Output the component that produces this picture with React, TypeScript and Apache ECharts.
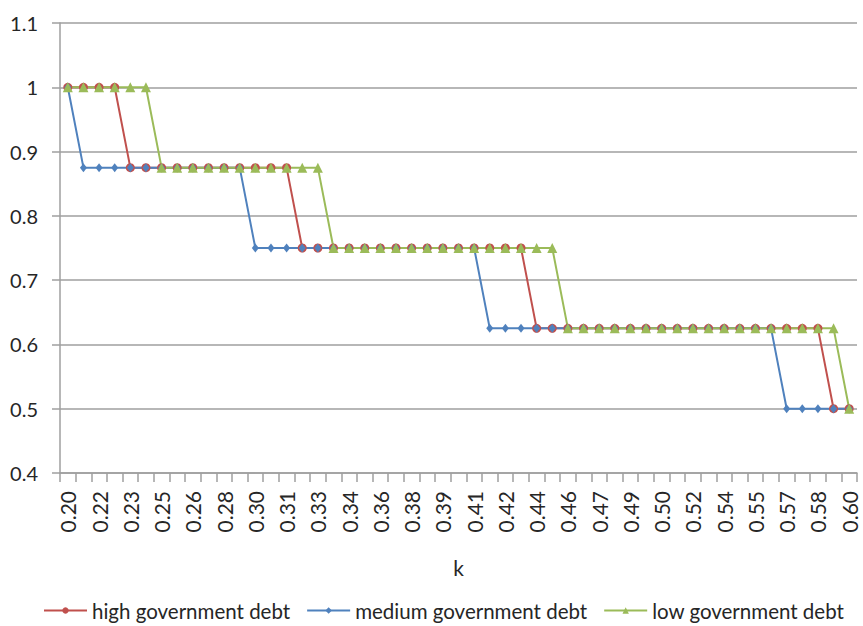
import React, { useEffect, useRef } from "react";
import * as echarts from "echarts";

// k values along the horizontal axis (step 0.008)
const kValues = [
  0.200, 0.208, 0.216, 0.224, 0.232, 0.240, 0.248, 0.256, 0.264, 0.272,
  0.280, 0.288, 0.296, 0.304, 0.312, 0.320, 0.328, 0.336, 0.344, 0.352,
  0.360, 0.368, 0.376, 0.384, 0.392, 0.400, 0.408, 0.416, 0.424, 0.432,
  0.440, 0.448, 0.456, 0.464, 0.472, 0.480, 0.488, 0.496, 0.504, 0.512,
  0.520, 0.528, 0.536, 0.544, 0.552, 0.560, 0.568, 0.576, 0.584, 0.592,
  0.600,
];

const highDebt = [
  1, 1, 1, 1, 0.875, 0.875, 0.875, 0.875, 0.875, 0.875,
  0.875, 0.875, 0.875, 0.875, 0.875, 0.75, 0.75, 0.75, 0.75, 0.75,
  0.75, 0.75, 0.75, 0.75, 0.75, 0.75, 0.75, 0.75, 0.75, 0.75,
  0.625, 0.625, 0.625, 0.625, 0.625, 0.625, 0.625, 0.625, 0.625, 0.625,
  0.625, 0.625, 0.625, 0.625, 0.625, 0.625, 0.625, 0.625, 0.625, 0.5,
  0.5,
];

const mediumDebt = [
  1, 0.875, 0.875, 0.875, 0.875, 0.875, 0.875, 0.875, 0.875, 0.875,
  0.875, 0.875, 0.75, 0.75, 0.75, 0.75, 0.75, 0.75, 0.75, 0.75,
  0.75, 0.75, 0.75, 0.75, 0.75, 0.75, 0.75, 0.625, 0.625, 0.625,
  0.625, 0.625, 0.625, 0.625, 0.625, 0.625, 0.625, 0.625, 0.625, 0.625,
  0.625, 0.625, 0.625, 0.625, 0.625, 0.625, 0.5, 0.5, 0.5, 0.5,
  0.5,
];

const lowDebt = [
  1, 1, 1, 1, 1, 1, 0.875, 0.875, 0.875, 0.875,
  0.875, 0.875, 0.875, 0.875, 0.875, 0.875, 0.875, 0.75, 0.75, 0.75,
  0.75, 0.75, 0.75, 0.75, 0.75, 0.75, 0.75, 0.75, 0.75, 0.75,
  0.75, 0.75, 0.625, 0.625, 0.625, 0.625, 0.625, 0.625, 0.625, 0.625,
  0.625, 0.625, 0.625, 0.625, 0.625, 0.625, 0.625, 0.625, 0.625, 0.625,
  0.5,
];

const seriesNames = ["high government debt", "medium government debt", "low government debt"];
const seriesColors = ["#C0504D", "#4F81BD", "#9BBB59"];

const FONT = "Lato, 'Liberation Sans', sans-serif";
const TEXT = "#262626";
const GRID = "#9f9f9f";

export default function App() {
  const ref = useRef<HTMLDivElement>(null);

  useEffect(() => {
    if (!ref.current) return;
    const chart = echarts.init(ref.current, undefined, { renderer: "svg" });

    const lineSeries = (name: string, data: number[], color: string, symbol: string, size: number | number[]) => ({
      name,
      type: "line",
      data,
      symbol,
      symbolSize: size,
      showAllSymbol: true,
      lineStyle: { color, width: 2 },
      itemStyle: { color, borderWidth: 0 },
      emphasis: { disabled: true },
    });

    chart.setOption({
      animation: false,
      backgroundColor: "#ffffff",
      textStyle: { fontFamily: FONT, color: TEXT },
      grid: { left: 60, right: 6, top: 23, bottom: 153, containLabel: false },
      legend: {
        bottom: 0,
        left: 38,
        itemWidth: 43,
        itemHeight: 8,
        itemGap: 16,
        textStyle: { fontFamily: FONT, fontSize: 20.5, color: TEXT },
        data: seriesNames,
      },
      xAxis: {
        type: "category",
        data: kValues.map((v) => v.toFixed(3)),
        boundaryGap: true,
        name: "k",
        nameLocation: "middle",
        nameGap: 84,
        nameTextStyle: { fontFamily: FONT, fontSize: 21, color: TEXT },
        axisLine: { lineStyle: { color: GRID, width: 1.5 } },
        axisTick: { show: true, interval: 0, length: 9, lineStyle: { color: GRID, width: 1.5 } },
        axisLabel: {
          interval: 1,
          rotate: 90,
          margin: 18,
          fontFamily: FONT,
          fontSize: 21,
          color: TEXT,
          formatter: (v: string) => Number(v).toFixed(2),
        },
        splitLine: { show: false },
      },
      yAxis: {
        type: "value",
        min: 0.4,
        max: 1.1,
        interval: 0.1,
        axisLine: { show: true, lineStyle: { color: GRID, width: 1.5 } },
        axisTick: { show: true, length: 8, lineStyle: { color: GRID, width: 1.5 } },
        axisLabel: {
          margin: 22,
          fontFamily: FONT,
          fontSize: 20,
          color: TEXT,
          formatter: (v: number) => String(Math.round(v * 10) / 10),
        },
        splitLine: { show: true, lineStyle: { color: GRID, width: 1.5 } },
      },
      series: [
        lineSeries(seriesNames[0], highDebt, seriesColors[0], "circle", 9),
        lineSeries(seriesNames[1], mediumDebt, seriesColors[1], "diamond", [7, 9]),
        lineSeries(seriesNames[2], lowDebt, seriesColors[2], "triangle", 10),
      ],
    });

    return () => chart.dispose();
  }, []);

  return (
    <div
      ref={ref}
      style={{ position: "fixed", left: 0, top: 0, width: 863, height: 626, background: "#fff" }}
    />
  );
}
